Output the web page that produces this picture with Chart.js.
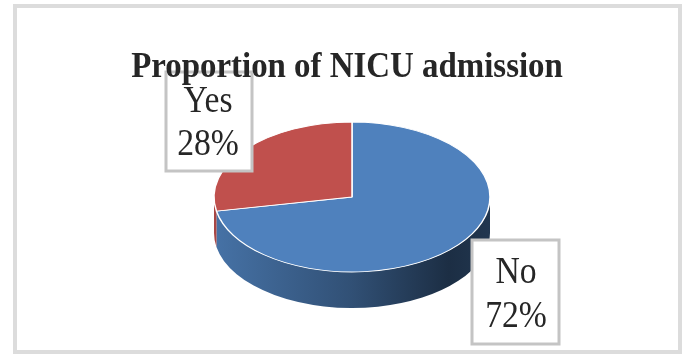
<!DOCTYPE html>
<html>
<head>
<meta charset="utf-8">
<script src="https://cdn.jsdelivr.net/npm/chart.js@4.4.1/dist/chart.umd.min.js"></script>
<style>
  html, body { margin: 0; padding: 0; background: #ffffff; }
  #wrap { width: 683px; height: 354px; }
</style>
</head>
<body>
<div id="wrap"><canvas id="c" width="683" height="354"></canvas></div>
<script>
// ---- data ----
const chartTitle = 'Proportion of NICU admission';
const categories = ['No', 'Yes'];
const values = [72, 28];

// ---- styles ----
const sliceColors = ['#4F81BD', '#C0504D'];
const FONT = "'Liberation Serif', 'Times New Roman', serif";
const RY = 75;      // vertical radius of the tilted top face
const DEPTH = 36;   // thickness of the pie

function shade(hex, f) {
  const n = parseInt(hex.slice(1), 16);
  const r = Math.round(((n >> 16) & 255) * f);
  const g = Math.round(((n >> 8) & 255) * f);
  const b = Math.round((n & 255) * f);
  return 'rgb(' + r + ',' + g + ',' + b + ')';
}

function condensedText(ctx, text, x, y, font, sx) {
  ctx.save();
  ctx.translate(x, y);
  ctx.scale(sx, 1);
  ctx.font = font;
  ctx.textAlign = 'center';
  ctx.textBaseline = 'alphabetic';
  ctx.fillText(text, 0, 0);
  ctx.restore();
}

const pie3d = {
  id: 'pie3d',
  beforeDraw(chart) {
    const ctx = chart.ctx;
    ctx.save();
    ctx.fillStyle = '#ffffff';
    ctx.fillRect(0, 0, chart.width, chart.height);
    ctx.strokeStyle = '#dcdcdc';
    ctx.lineWidth = 4;
    ctx.strokeRect(15, 6, 665, 346);
    ctx.restore();
  },
  beforeDatasetsDraw(chart) {
    const ctx = chart.ctx;
    const meta = chart.getDatasetMeta(0);
    const a = meta.data[0];
    const cx = a.x, cy = a.y, r = a.outerRadius;
    const sy = RY / r;
    // side walls (front half only)
    ctx.save();
    meta.data.forEach((arc, i) => {
      const a0 = Math.max(arc.startAngle, 0);
      const a1 = Math.min(arc.endAngle, Math.PI);
      if (a1 <= a0) return;
      const base = sliceColors[i];
      const g = ctx.createLinearGradient(cx - r, 0, cx + r, 0);
      g.addColorStop(0, shade(base, 0.88));
      g.addColorStop(0.5, shade(base, 0.62));
      g.addColorStop(0.85, shade(base, 0.36));
      g.addColorStop(1, shade(base, 0.42));
      ctx.beginPath();
      ctx.ellipse(cx, cy, r, RY, 0, a0, a1, false);
      ctx.lineTo(cx + r * Math.cos(a1), cy + RY * Math.sin(a1) + DEPTH);
      ctx.ellipse(cx, cy + DEPTH, r, RY, 0, a1, a0, true);
      ctx.closePath();
      ctx.fillStyle = g;
      ctx.fill();
    });
    ctx.restore();
    // squash the top face
    ctx.save();
    ctx.translate(cx, cy);
    ctx.scale(1, sy);
    ctx.translate(-cx, -cy);
  },
  afterDatasetsDraw(chart) {
    chart.ctx.restore();
  },
  afterDraw(chart) {
    const ctx = chart.ctx;
    const meta = chart.getDatasetMeta(0);
    const cx = meta.data[0].x, cy = meta.data[0].y;
    const total = values.reduce((s, v) => s + v, 0);
    ctx.save();
    // label boxes (relative to pie centre)
    const boxes = [
      { x: cx + 120, y: cy + 43, w: 87, h: 104, tx: cx + 164, l1: cy + 86, l2: cy + 130 },
      { x: cx - 186, y: cy - 125, w: 86, h: 99, tx: cx - 144, l1: cy - 85, l2: cy - 42 }
    ];
    boxes.forEach((b, i) => {
      ctx.fillStyle = '#ffffff';
      ctx.fillRect(b.x, b.y, b.w, b.h);
      ctx.strokeStyle = '#c4c4c4';
      ctx.lineWidth = 3;
      ctx.strokeRect(b.x, b.y, b.w, b.h);
      ctx.fillStyle = '#262626';
      condensedText(ctx, categories[i], b.tx, b.l1, '37px ' + FONT, 0.91);
      condensedText(ctx, Math.round(values[i] / total * 100) + '%', b.tx, b.l2, '37px ' + FONT, 0.91);
    });
    // title
    ctx.fillStyle = '#262626';
    condensedText(ctx, chartTitle, 347, 77, 'bold 35px ' + FONT, 0.94);
    ctx.restore();
  }
};

new Chart(document.getElementById('c'), {
  type: 'pie',
  data: {
    labels: categories,
    datasets: [{
      data: values,
      backgroundColor: sliceColors,
      borderColor: '#ffffff',
      borderWidth: 1.5
    }]
  },
  options: {
    responsive: false,
    animation: false,
    radius: 138,
    layout: { padding: { left: 21, right: 0, top: 40, bottom: 0 } },
    plugins: {
      legend: { display: false },
      title: { display: false },
      tooltip: { enabled: false }
    }
  },
  plugins: [pie3d]
});
</script>
</body>
</html>
